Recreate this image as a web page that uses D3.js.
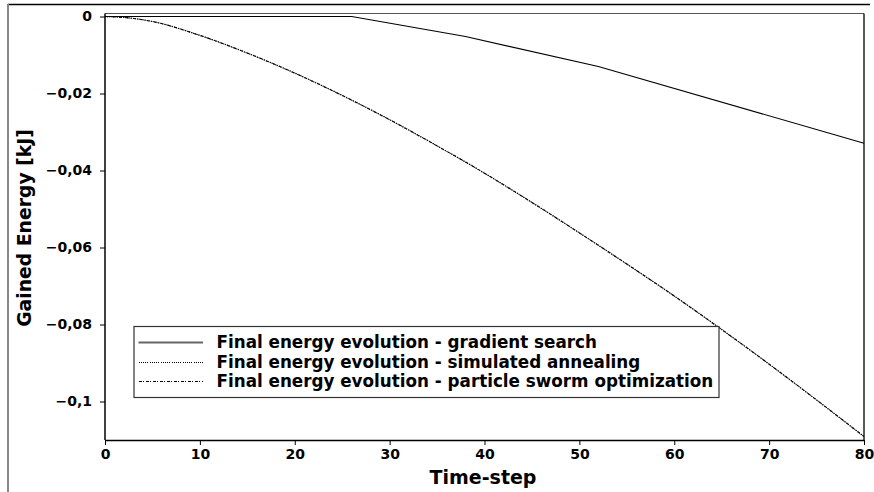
<!DOCTYPE html>
<html>
<head>
<meta charset="utf-8">
<script src="https://cdn.jsdelivr.net/npm/d3@7"></script>
<style>
  html, body { margin: 0; padding: 0; background: #fff; }
  svg { display: block; }
  text { font-family: "DejaVu Sans", sans-serif; font-weight: bold; fill: #000; }
</style>
</head>
<body>
<svg id="chart" width="874" height="492"></svg>
<script>
// ---- data ----
const gradientSteps = [0, 26, 38, 52, 80];
const gradientValues = [0, 0, -0.0052, -0.0130, -0.0329];

const annealingSteps = [0, 3, 5, 10, 15, 20, 25, 30, 35, 40, 45, 50, 55, 60, 65, 70, 75, 80];
const annealingValues = [0, -0.0005, -0.0013, -0.0049, -0.0095, -0.0147, -0.0205, -0.0268, -0.0336, -0.0407, -0.0483, -0.0562, -0.0643, -0.0726, -0.0813, -0.0903, -0.0996, -0.1091];

const psoSteps = [0, 3, 5, 10, 15, 20, 25, 30, 35, 40, 45, 50, 55, 60, 65, 70, 75, 80];
const psoValues = [0, -0.0005, -0.0013, -0.0049, -0.0095, -0.0147, -0.0205, -0.0268, -0.0336, -0.0407, -0.0483, -0.0562, -0.0643, -0.0726, -0.0813, -0.0903, -0.0996, -0.1091];

const seriesNames = [
  "Final energy evolution - gradient search",
  "Final energy evolution - simulated annealing",
  "Final energy evolution - particle sworm optimization"
];

const xTicks = [0, 10, 20, 30, 40, 50, 60, 70, 80];
const xTickLabels = ["0", "10", "20", "30", "40", "50", "60", "70", "80"];
const yTicks = [0, -0.02, -0.04, -0.06, -0.08, -0.1];
const yTickLabels = ["0", "\u22120,02", "\u22120,04", "\u22120,06", "\u22120,08", "\u22120,1"];

const xTitle = "Time-step";
const yTitle = "Gained Energy [kJ]";

// ---- layout ----
const svg = d3.select("#chart");
const L = 105, R = 864, T = 13.5, B = 440;

const x = d3.scaleLinear().domain([0, 80]).range([L, R]);
const y = d3.scaleLinear().domain([-0.11, 0.00078]).range([B, T]);

// outer frame (top and left edges)
svg.append("line").attr("x1", 8).attr("x2", 870).attr("y1", 4.5).attr("y2", 4.5)
  .attr("stroke", "#000").attr("stroke-width", 1.3);
svg.append("line").attr("x1", 8).attr("x2", 8).attr("y1", 4).attr("y2", 492)
  .attr("stroke", "#888").attr("stroke-width", 2);

// plot frame
svg.append("line").attr("x1", L).attr("x2", R).attr("y1", T).attr("y2", T)
  .attr("stroke", "#555").attr("stroke-width", 1);
svg.append("line").attr("x1", R).attr("x2", R).attr("y1", T).attr("y2", B)
  .attr("stroke", "#000").attr("stroke-width", 1.3);

// axes
const xAxis = d3.axisBottom(x).tickValues(xTicks)
  .tickFormat((d, i) => xTickLabels[i]).tickSize(5).tickSizeOuter(0).tickPadding(3);
const gx = svg.append("g").attr("transform", `translate(0,${B})`).call(xAxis);
gx.select(".domain").attr("stroke", "#000").attr("stroke-width", 1.5);
gx.selectAll(".tick line").attr("stroke", "#000").attr("stroke-width", 1);
gx.selectAll(".tick text").attr("font-size", 14).attr("font-family", "DejaVu Sans")
  .attr("font-weight", "bold").attr("dy", null).attr("y", 0)
  .attr("transform", "translate(0,19.3)");

const yAxis = d3.axisLeft(y).tickValues(yTicks)
  .tickFormat((d, i) => yTickLabels[i]).tickSize(5).tickSizeOuter(0).tickPadding(8);
const gy = svg.append("g").attr("transform", `translate(${L},0)`).call(yAxis);
gy.select(".domain").attr("stroke", "#000").attr("stroke-width", 1.5)
  .attr("d", `M0,${B}V${T}`);
gy.selectAll(".tick line").attr("stroke", "#000").attr("stroke-width", 1);
gy.selectAll(".tick text").attr("font-size", 14).attr("font-family", "DejaVu Sans")
  .attr("font-weight", "bold");

// axis titles
svg.append("text").attr("x", 483).attr("y", 484).attr("text-anchor", "middle")
  .attr("font-size", 19).text(xTitle);
svg.append("text").attr("transform", "translate(31,228) rotate(-90)")
  .attr("text-anchor", "middle").attr("font-size", 18.8).text(yTitle);

// lines
const mk = (steps, vals) => steps.map((s, i) => [s, vals[i]]);
const lineLin = d3.line().x(d => x(d[0])).y(d => y(d[1]));
const lineSmooth = d3.line().x(d => x(d[0])).y(d => y(d[1])).curve(d3.curveMonotoneX);

svg.append("path").datum(mk(gradientSteps, gradientValues)).attr("d", lineLin)
  .attr("fill", "none").attr("stroke", "#000").attr("stroke-width", 1.1);
svg.append("path").datum(mk(annealingSteps, annealingValues)).attr("d", lineSmooth)
  .attr("fill", "none").attr("stroke", "#000").attr("stroke-width", 1.1)
  .attr("stroke-dasharray", "1,1");
svg.append("path").datum(mk(psoSteps, psoValues)).attr("d", lineSmooth)
  .attr("fill", "none").attr("stroke", "#000").attr("stroke-width", 1.1)
  .attr("stroke-dasharray", "3,1.5,1,1.5");

// legend
const lg = svg.append("g");
lg.append("rect").attr("x", 134).attr("y", 326.5).attr("width", 585).attr("height", 71)
  .attr("fill", "#fff").attr("stroke", "#333").attr("stroke-width", 1.2);
const rowsY = [342.5, 362.5, 381.5];
const dashes = [null, "1,1.2", "3,1.5,1,1.5"];
const colors = ["#666", "#000", "#000"];
const widths = [2, 1, 1];
seriesNames.forEach((name, i) => {
  const ln = lg.append("line").attr("x1", 138.5).attr("x2", 203)
    .attr("y1", rowsY[i]).attr("y2", rowsY[i])
    .attr("stroke", colors[i]).attr("stroke-width", widths[i]);
  if (dashes[i]) ln.attr("stroke-dasharray", dashes[i]).attr("shape-rendering", "crispEdges");
});
const legendTexts = lg.selectAll("text.lt").data(seriesNames).enter().append("text")
  .attr("class", "lt").attr("x", 216.5).attr("y", (d, i) => rowsY[i] + 5.3)
  .attr("font-size", 16).text(d => d);
// fit longest label to measured width
const w = legendTexts.nodes()[2].getComputedTextLength();
const fs = 16 * 497 / w;
legendTexts.attr("font-size", fs);
</script>
</body>
</html>
